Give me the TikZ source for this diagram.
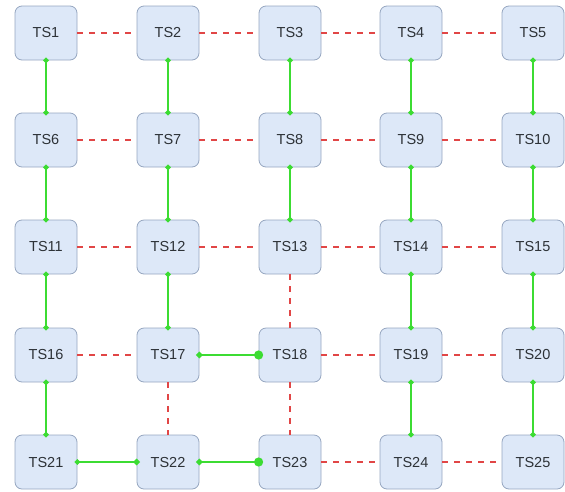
\documentclass[tikz,border=0pt]{standalone}
\usepackage{fontspec}
\setmainfont{Liberation Sans}
\usetikzlibrary{arrows.meta}
\definecolor{boxfill}{RGB}{221,232,248}
\definecolor{boxline}{RGB}{150,166,192}
\definecolor{grn}{RGB}{60,220,50}
\definecolor{dgrn}{RGB}{40,160,40}
\definecolor{rdash}{RGB}{225,70,70}
\definecolor{txt}{RGB}{45,50,55}
\begin{document}
\begin{tikzpicture}[x=1pt,y=-1pt,
  ts/.style={draw=boxline,fill=boxfill,rounded corners=7pt,minimum width=62pt,minimum height=54pt,line width=0.8pt,text=txt,font=\fontsize{14.5}{16}\selectfont,inner sep=0pt},
  gl/.style={draw=grn,line width=2.2pt,{Circle[length=5pt,width=5pt,fill=dgrn,sep=-2.5pt]}-{Circle[length=5pt,width=5pt,fill=dgrn,sep=-2.5pt]}},
  glb/.style={draw=grn,line width=2.2pt,{Circle[length=6pt,width=6pt,fill=dgrn,sep=-3pt]}-{Circle[length=9pt,width=9pt,fill=grn,sep=-4.5pt]}},
  gls/.style={draw=grn,line width=2.2pt,{Circle[length=5pt,width=5pt,fill=dgrn,sep=-2.5pt]}-{Circle[length=6pt,width=6pt,fill=dgrn,sep=-3pt]}},
  rl/.style={draw=rdash,line width=1.6pt,dash pattern=on 6pt off 6pt}]
\useasboundingbox (0,0) rectangle (565,491);
\foreach \r [count=\i from 0] in {33,140,247,355,462}{
  \foreach \c [count=\j from 1] in {46,168,290,411,533}{
    \pgfmathtruncatemacro{\n}{\i*5+\j}
    \node[ts] (n\n) at (\c,\r) {TS\n};
  }
}
% red dashed horizontals
\foreach \a/\b in {1/2,2/3,3/4,4/5,6/7,7/8,8/9,9/10,11/12,12/13,13/14,14/15,16/17,18/19,19/20,23/24,24/25}
  \draw[rl] (n\a) -- (n\b);
% red dashed verticals
\foreach \a/\b in {13/18,17/22,18/23}
  \draw[rl] (n\a) -- (n\b);
% green verticals
\foreach \a/\b in {1/6,6/11,11/16,16/21,2/7,7/12,12/17,3/8,8/13,4/9,9/14,14/19,19/24,5/10,10/15,15/20,20/25}
  \draw[gl] (n\a) -- (n\b);
% green horizontals
\draw[glb] (n17) -- (n18);
\draw[gls] (n21) -- (n22);
\draw[glb] (n22) -- (n23);
\end{tikzpicture}
\end{document}
